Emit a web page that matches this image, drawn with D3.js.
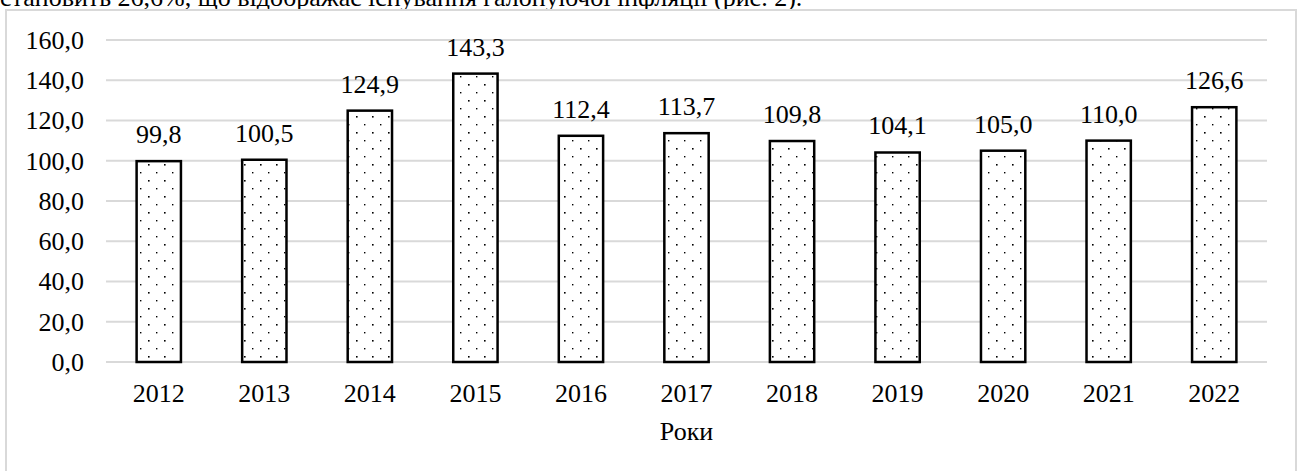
<!DOCTYPE html>
<html>
<head>
<meta charset="utf-8">
<script src="https://cdn.jsdelivr.net/npm/d3@7"></script>
<style>
  @font-face {
    font-family: "ChartSerif";
    src: local("Liberation Serif"), local("LiberationSerif"), local("Times New Roman"), local("Tinos");
    font-display: swap;
  }
</style>
</head>
<body style="margin:0">
<svg id="chart" width="1302" height="471" style="font-family: 'Liberation Serif', 'Times New Roman', serif"></svg>
<script>
// ─── Data ─────────────────────────────────────────────────────────────────────
const years  = ["2012", "2013", "2014", "2015", "2016", "2017", "2018", "2019", "2020", "2021", "2022"];
const values = [99.8, 100.5, 124.9, 143.3, 112.4, 113.7, 109.8, 104.1, 105.0, 110.0, 126.6];
const yTicks = [0, 20, 40, 60, 80, 100, 120, 140, 160];
const xTitle = "Роки";
const lineAbove = "становить 26,6%, що відображає існування галопуючої інфляції (рис. 2).";

// ─── Layout ───────────────────────────────────────────────────────────────────
const svg = d3.select("#chart");
const plot = { left: 106, right: 1267, top: 40, bottom: 362 };
const FONT = "'Liberation Serif', ChartSerif, 'Times New Roman', serif";

const fmt = v => d3.format(".1f")(v).replace(".", ",");

const x = d3.scaleBand()
    .domain(years)
    .range([plot.left, plot.right])
    .paddingInner(0.58)
    .paddingOuter(0.29);

const y = d3.scaleLinear()
    .domain([0, 160])
    .range([plot.bottom, plot.top]);

// every text gets the same serif face and size
const label = (sel) => sel
    .style("font-family", FONT)
    .attr("font-size", 26)
    .attr("fill", "#000");

// Sparse dotted fill (rows 8px apart, every other row shifted by 8px)
const pat = svg.append("defs").append("pattern")
    .attr("id", "dots")
    .attr("patternUnits", "userSpaceOnUse")
    .attr("width", 16).attr("height", 16);
pat.append("rect").attr("width", 16).attr("height", 16).attr("fill", "#fff");
[[4, 4, 1.6], [12, 12, 1.4]].forEach(([cx, cy, s]) => {
    pat.append("rect")
        .attr("x", cx).attr("y", cy)
        .attr("width", s).attr("height", s)
        .attr("fill", "#000");
});

// Cut-off line of body text above the chart
svg.append("text")
    .attr("x", 0).attr("y", 6)
    .call(label)
    .text(lineAbove);

// Chart frame
svg.append("rect")
    .attr("x", 6).attr("y", 10)
    .attr("width", 1290).attr("height", 480)
    .attr("fill", "#fff")
    .attr("stroke", "#d9d9d9")
    .attr("stroke-width", 2);

// ─── Grid + y axis ────────────────────────────────────────────────────────────
svg.append("g")
    .selectAll("line")
    .data(yTicks)
    .join("line")
    .attr("x1", plot.left).attr("x2", plot.right)
    .attr("y1", d => y(d)).attr("y2", d => y(d))
    .attr("stroke", "#d9d9d9")
    .attr("stroke-width", 2);

svg.append("g")
    .selectAll("text")
    .data(yTicks)
    .join("text")
    .attr("x", 84)
    .attr("y", d => y(d))
    .attr("dy", "0.34em")
    .attr("text-anchor", "end")
    .call(label)
    .text(d => fmt(d));

// ─── Bars ─────────────────────────────────────────────────────────────────────
svg.append("g")
    .selectAll("rect")
    .data(years)
    .join("rect")
    .attr("x", d => x(d))
    .attr("y", (d, i) => y(values[i]))
    .attr("width", x.bandwidth())
    .attr("height", (d, i) => y(0) - y(values[i]))
    .attr("fill", "url(#dots)")
    .attr("stroke", "#000")
    .attr("stroke-width", 2.5);

// Value labels
svg.append("g")
    .selectAll("text")
    .data(years)
    .join("text")
    .attr("x", d => x(d) + x.bandwidth() / 2)
    .attr("y", (d, i) => y(values[i]) - 18)
    .attr("text-anchor", "middle")
    .call(label)
    .text((d, i) => fmt(values[i]));

// ─── X axis labels + title ────────────────────────────────────────────────────
svg.append("g")
    .selectAll("text")
    .data(years)
    .join("text")
    .attr("x", d => x(d) + x.bandwidth() / 2)
    .attr("y", 402)
    .attr("text-anchor", "middle")
    .call(label)
    .text(d => d);

svg.append("text")
    .attr("x", (plot.left + plot.right) / 2)
    .attr("y", 440)
    .attr("text-anchor", "middle")
    .call(label)
    .text(xTitle);
</script>
</body>
</html>
